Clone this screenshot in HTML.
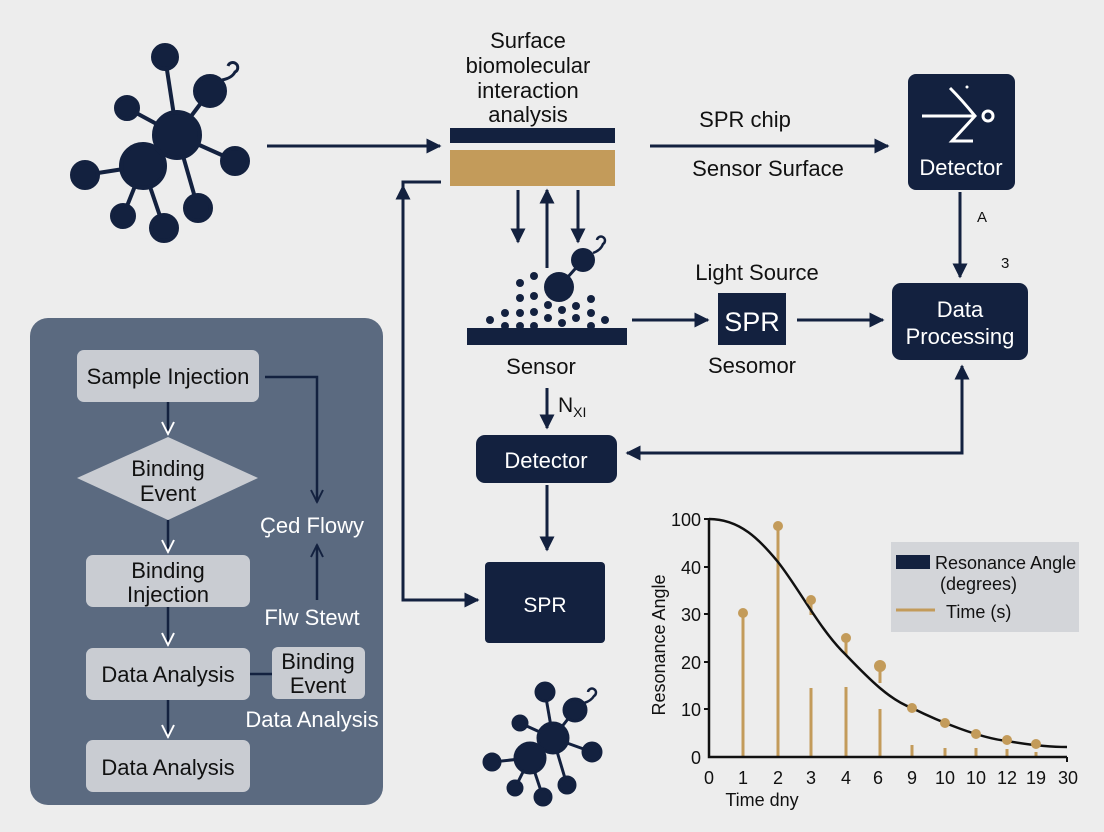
<!DOCTYPE html>
<html><head><meta charset="utf-8"><style>
html,body{margin:0;padding:0;background:#ededed;}
svg{display:block;font-family:"Liberation Sans",sans-serif;}
</style></head><body>
<svg width="1104" height="832" viewBox="0 0 1104 832" xmlns="http://www.w3.org/2000/svg">
<defs>
<marker id="ah" viewBox="0 0 10 10" refX="9" refY="5" markerWidth="5" markerHeight="5" orient="auto-start-reverse" markerUnits="strokeWidth"><path d="M0,0 L10,5 L0,10 z" fill="#13213f"/></marker>
<marker id="ov" viewBox="0 0 10 10" refX="9" refY="5" markerWidth="6" markerHeight="6" orient="auto" markerUnits="strokeWidth"><path d="M1,1 L9,5 L1,9" fill="none" stroke="#ffffff" stroke-width="1.3"/></marker>
<marker id="ovd" viewBox="0 0 10 10" refX="9" refY="5" markerWidth="6" markerHeight="6" orient="auto" markerUnits="strokeWidth"><path d="M1,1 L9,5 L1,9" fill="none" stroke="#13213f" stroke-width="1.3"/></marker>
</defs>
<rect width="1104" height="832" fill="#ededed"/>
<g fill="#13213f" stroke="#13213f" stroke-width="4">
<line x1="177" y1="135" x2="165" y2="57"/><line x1="177" y1="135" x2="210" y2="91"/><line x1="177" y1="135" x2="127" y2="108"/><line x1="177" y1="135" x2="235" y2="161"/><line x1="177" y1="135" x2="198" y2="208"/><line x1="143" y1="166" x2="85" y2="175"/><line x1="143" y1="166" x2="123" y2="216"/><line x1="143" y1="166" x2="164" y2="228"/><line x1="177" y1="135" x2="143" y2="166"/>
<circle cx="177" cy="135" r="23"/><circle cx="143" cy="166" r="22"/><circle cx="165" cy="57" r="12"/><circle cx="210" cy="91" r="15"/><circle cx="127" cy="108" r="11"/><circle cx="235" cy="161" r="13"/><circle cx="85" cy="175" r="13"/><circle cx="123" cy="216" r="11"/><circle cx="164" cy="228" r="13"/><circle cx="198" cy="208" r="13"/>
</g>
<path d="M222,80 Q232,78 235,72 A5,5 0 1 0 228,66" fill="none" stroke="#13213f" stroke-width="3"/>
<line x1="267" y1="146" x2="440" y2="146" stroke="#13213f" stroke-width="3" marker-end="url(#ah)"/>
<g font-size="22" fill="#111" text-anchor="middle"><text x="528" y="48">Surface</text><text x="528" y="73">biomolecular</text><text x="528" y="98">interaction</text><text x="528" y="122">analysis</text></g>
<rect x="450" y="128" width="165" height="15" fill="#13213f"/>
<rect x="450" y="150" width="165" height="36" fill="#c39b5a"/>
<polyline points="441,182 403,182 403,600 478,600" fill="none" stroke="#13213f" stroke-width="3" marker-end="url(#ah)"/>
<line x1="403" y1="220" x2="403" y2="186" stroke="#13213f" stroke-width="3" marker-end="url(#ah)"/>
<g stroke="#13213f" stroke-width="3" marker-end="url(#ah)"><line x1="518" y1="190" x2="518" y2="242"/><line x1="547" y1="268" x2="547" y2="190"/><line x1="578" y1="190" x2="578" y2="242"/></g>
<g fill="#13213f"><line x1="559" y1="287" x2="583" y2="260" stroke="#13213f" stroke-width="3"/><circle cx="559" cy="287" r="15"/><circle cx="583" cy="260" r="12"/>
<circle cx="520" cy="283" r="4"/><circle cx="534" cy="276" r="4"/><circle cx="520" cy="298" r="4"/><circle cx="534" cy="296" r="4"/><circle cx="548" cy="305" r="4"/><circle cx="576" cy="306" r="4"/><circle cx="591" cy="299" r="4"/><circle cx="505" cy="313" r="4"/><circle cx="520" cy="313" r="4"/><circle cx="534" cy="312" r="4"/><circle cx="562" cy="310" r="4"/><circle cx="591" cy="313" r="4"/><circle cx="490" cy="320" r="4"/><circle cx="548" cy="318" r="4"/><circle cx="576" cy="318" r="4"/><circle cx="605" cy="320" r="4"/><circle cx="505" cy="326" r="4"/><circle cx="520" cy="326" r="4"/><circle cx="534" cy="326" r="4"/><circle cx="562" cy="323" r="4"/><circle cx="591" cy="326" r="4"/>
<rect x="467" y="328" width="160" height="17"/></g>
<path d="M593,253 Q601,250 603,244 A4,4 0 1 0 597,240" fill="none" stroke="#13213f" stroke-width="2.5"/>
<text x="541" y="374" font-size="22" fill="#111" text-anchor="middle">Sensor</text>
<line x1="632" y1="320" x2="708" y2="320" stroke="#13213f" stroke-width="3" marker-end="url(#ah)"/>
<rect x="718" y="293" width="68" height="52" fill="#13213f"/>
<text x="752" y="331" font-size="27" fill="#fff" text-anchor="middle">SPR</text>
<text x="757" y="280" font-size="22" fill="#111" text-anchor="middle">Light Source</text>
<text x="752" y="373" font-size="22" fill="#111" text-anchor="middle">Sesomor</text>
<line x1="797" y1="320" x2="883" y2="320" stroke="#13213f" stroke-width="3" marker-end="url(#ah)"/>
<line x1="547" y1="388" x2="547" y2="428" stroke="#13213f" stroke-width="3" marker-end="url(#ah)"/>
<text x="558" y="412" font-size="21" fill="#111">N<tspan font-size="14" dy="5">XI</tspan></text>
<rect x="476" y="435" width="141" height="48" rx="9" fill="#13213f"/>
<text x="546" y="468" font-size="22" fill="#fff" text-anchor="middle">Detector</text>
<polyline points="962,370 962,453 627,453" fill="none" stroke="#13213f" stroke-width="3" marker-end="url(#ah)"/>
<line x1="962" y1="400" x2="962" y2="366" stroke="#13213f" stroke-width="3" marker-end="url(#ah)"/>
<line x1="547" y1="485" x2="547" y2="550" stroke="#13213f" stroke-width="3" marker-end="url(#ah)"/>
<rect x="485" y="562" width="120" height="81" rx="4" fill="#13213f"/>
<text x="545" y="612" font-size="21" fill="#fff" text-anchor="middle">SPR</text>
<text x="745" y="127" font-size="22" fill="#111" text-anchor="middle">SPR chip</text>
<text x="768" y="176" font-size="22" fill="#111" text-anchor="middle">Sensor Surface</text>
<line x1="650" y1="146" x2="888" y2="146" stroke="#13213f" stroke-width="3" marker-end="url(#ah)"/>
<rect x="908" y="74" width="107" height="116" rx="8" fill="#13213f"/>
<g stroke="#fff" stroke-width="3" fill="none"><line x1="922" y1="116" x2="975" y2="116"/><path d="M950,88 Q962,100 975,116 L952,141 L973,141"/><circle cx="988" cy="116" r="5"/></g>
<circle cx="967" cy="87" r="1.5" fill="#fff"/>
<text x="961" y="175" font-size="22" fill="#fff" text-anchor="middle">Detector</text>
<line x1="960" y1="192" x2="960" y2="277" stroke="#13213f" stroke-width="3" marker-end="url(#ah)"/>
<text x="977" y="222" font-size="15" fill="#111">A</text>
<text x="1001" y="268" font-size="15" fill="#111">3</text>
<rect x="892" y="283" width="136" height="77" rx="9" fill="#13213f"/>
<text x="960" y="317" font-size="22" fill="#fff" text-anchor="middle">Data</text>
<text x="960" y="344" font-size="22" fill="#fff" text-anchor="middle">Processing</text>
<g fill="#13213f" stroke="#13213f" stroke-width="3">
<line x1="553" y1="738" x2="545" y2="692"/><line x1="553" y1="738" x2="575" y2="710"/><line x1="553" y1="738" x2="520" y2="723"/><line x1="553" y1="738" x2="592" y2="752"/><line x1="553" y1="738" x2="567" y2="785"/><line x1="530" y1="758" x2="553" y2="738"/><line x1="530" y1="758" x2="492" y2="762"/><line x1="530" y1="758" x2="515" y2="788"/><line x1="530" y1="758" x2="543" y2="797"/>
<circle cx="553" cy="738" r="15"/><circle cx="530" cy="758" r="15"/><circle cx="545" cy="692" r="9"/><circle cx="575" cy="710" r="11"/><circle cx="520" cy="723" r="7"/><circle cx="592" cy="752" r="9"/><circle cx="492" cy="762" r="8"/><circle cx="515" cy="788" r="7"/><circle cx="543" cy="797" r="8"/><circle cx="567" cy="785" r="8"/></g>
<path d="M584,703 Q591,701 594,696 A4,4 0 1 0 588,692" fill="none" stroke="#13213f" stroke-width="2.5"/>
<rect x="30" y="318" width="353" height="487" rx="18" fill="#5b6a80"/>
<g fill="#c9ccd2"><rect x="77" y="350" width="182" height="52" rx="7"/><polygon points="77,478 168,437 258,478 168,520"/><rect x="86" y="555" width="164" height="52" rx="7"/><rect x="86" y="648" width="164" height="52" rx="7"/><rect x="86" y="740" width="164" height="52" rx="7"/><rect x="272" y="647" width="93" height="52" rx="6"/></g>
<g stroke="#13213f" stroke-width="2.5" fill="none"><line x1="168" y1="402" x2="168" y2="434" marker-end="url(#ov)"/><line x1="168" y1="520" x2="168" y2="552" marker-end="url(#ov)"/><line x1="168" y1="607" x2="168" y2="645" marker-end="url(#ov)"/><line x1="168" y1="700" x2="168" y2="737" marker-end="url(#ov)"/><line x1="250" y1="674" x2="272" y2="674"/><polyline points="265,377 317,377 317,502" marker-end="url(#ovd)"/><line x1="317" y1="600" x2="317" y2="545" marker-end="url(#ovd)"/></g>
<g font-size="22" fill="#111" text-anchor="middle"><text x="168" y="384">Sample Injection</text><text x="168" y="476">Binding</text><text x="168" y="501">Event</text><text x="168" y="578">Binding</text><text x="168" y="602">Injection</text><text x="168" y="682">Data Analysis</text><text x="168" y="775">Data Analysis</text><text x="318" y="669">Binding</text><text x="318" y="693">Event</text></g>
<g font-size="22" fill="#fff" text-anchor="middle"><text x="312" y="533">Ҫed Flowy</text><text x="312" y="625">Flw Stewt</text><text x="312" y="727">Data Analysis</text></g>
<rect x="891" y="542" width="188" height="90" fill="#d3d5d9"/>
<rect x="896" y="555" width="34" height="14" fill="#13213f"/>
<line x1="896" y1="610" x2="935" y2="610" stroke="#c39b5a" stroke-width="3"/>
<g font-size="18" fill="#111"><text x="935" y="569">Resonance Angle</text><text x="940" y="590">(degrees)</text><text x="946" y="618">Time (s)</text></g>
<g stroke="#c39b5a" stroke-width="3"><line x1="743" y1="757" x2="743" y2="613"/><line x1="778" y1="757" x2="778" y2="526"/><line x1="811" y1="757" x2="811" y2="688"/><line x1="811" y1="600" x2="811" y2="615"/><line x1="846" y1="757" x2="846" y2="687"/><line x1="846" y1="638" x2="846" y2="655"/><line x1="880" y1="757" x2="880" y2="709"/><line x1="880" y1="666" x2="880" y2="683"/><line x1="912" y1="757" x2="912" y2="745"/><line x1="945" y1="757" x2="945" y2="748"/><line x1="976" y1="757" x2="976" y2="748"/><line x1="1007" y1="757" x2="1007" y2="749"/><line x1="1036" y1="757" x2="1036" y2="752"/></g>
<path d="M709,519 C740,519 760,540 778,562 C800,590 820,630 846,655 C870,680 890,700 912,708 C940,722 980,738 1007,741 C1030,745 1050,747 1067,747" fill="none" stroke="#111" stroke-width="2.5"/>
<g fill="#c39b5a"><circle cx="743" cy="613" r="5"/><circle cx="778" cy="526" r="5"/><circle cx="811" cy="600" r="5"/><circle cx="846" cy="638" r="5"/><circle cx="880" cy="666" r="6"/><circle cx="912" cy="708" r="5"/><circle cx="945" cy="723" r="5"/><circle cx="976" cy="734" r="5"/><circle cx="1007" cy="740" r="5"/><circle cx="1036" cy="744" r="5"/></g>
<polyline points="709,519 709,757 1067,757" fill="none" stroke="#111" stroke-width="2.5"/>
<g stroke="#111" stroke-width="2"><line x1="704" y1="519" x2="709" y2="519"/><line x1="704" y1="567" x2="709" y2="567"/><line x1="704" y1="614" x2="709" y2="614"/><line x1="704" y1="662" x2="709" y2="662"/><line x1="704" y1="709" x2="709" y2="709"/><line x1="1067" y1="757" x2="1067" y2="762"/></g>
<g font-size="18" fill="#111" text-anchor="end"><text x="701" y="526">100</text><text x="701" y="574">40</text><text x="701" y="621">30</text><text x="701" y="669">20</text><text x="701" y="716">10</text><text x="701" y="764">0</text></g>
<g font-size="18" fill="#111" text-anchor="middle"><text x="709" y="784">0</text><text x="743" y="784">1</text><text x="778" y="784">2</text><text x="811" y="784">3</text><text x="846" y="784">4</text><text x="878" y="784">6</text><text x="912" y="784">9</text><text x="945" y="784">10</text><text x="976" y="784">10</text><text x="1007" y="784">12</text><text x="1036" y="784">19</text><text x="1068" y="784">30</text><text x="762" y="806">Time dny</text></g>
<text x="0" y="0" font-size="18" fill="#111" text-anchor="middle" transform="translate(665,645) rotate(-90)">Resonance Angle</text>
</svg>
</body></html>
